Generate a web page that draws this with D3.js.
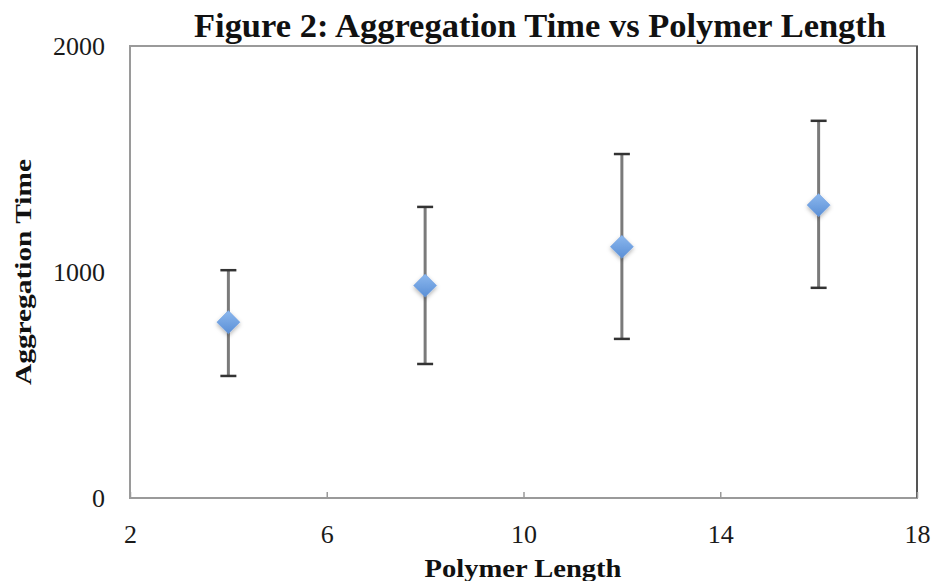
<!DOCTYPE html>
<html>
<head>
<meta charset="utf-8">
<script src="https://cdn.jsdelivr.net/npm/d3@7"></script>
<style>
  body { margin: 0; background: #fff; }
  svg { display: block; }
</style>
</head>
<body>
<svg id="chart" width="933" height="581"></svg>
<script>
// data
const polymerLength = [4, 8, 12, 16]
const aggTime = [778, 940, 1112, 1296]
const errLow = [540, 593, 704, 930]
const errHigh = [1008, 1288, 1522, 1669]
const xTicks = [2, 6, 10, 14, 18]
const yTicks = [0, 1000, 2000]

const margin = { top: 46, right: 16, bottom: 83, left: 130 }
const width = 933 - margin.left - margin.right
const height = 581 - margin.top - margin.bottom
const serif = "'Liberation Serif', serif"

const svg = d3.select('#chart')
const defs = svg.append('defs')
const grad = defs.append('linearGradient')
  .attr('id', 'dia').attr('x1', 0).attr('y1', 0).attr('x2', 0).attr('y2', 1)
grad.append('stop').attr('offset', '0%').attr('stop-color', '#8cb8ee')
grad.append('stop').attr('offset', '100%').attr('stop-color', '#5a8fd6')
const shadow = defs.append('filter').attr('id', 'shadow')
  .attr('x', '-50%').attr('y', '-50%').attr('width', '200%').attr('height', '200%')
shadow.append('feDropShadow').attr('dx', 0).attr('dy', 2).attr('stdDeviation', 2)
  .attr('flood-color', '#000').attr('flood-opacity', 0.3)

const g = svg.append('g').attr('transform', `translate(${margin.left},${margin.top})`)

const x = d3.scaleLinear().domain([2, 18]).range([0, width])
const y = d3.scaleLinear().domain([0, 2000]).range([height, 0])

// frame
g.append('rect').attr('x', 0).attr('y', 0).attr('width', width).attr('height', height)
  .attr('fill', 'none').attr('stroke', '#9a9a9a').attr('stroke-width', 2)
g.append('line').attr('x1', width).attr('x2', width).attr('y1', 0).attr('y2', height)
  .attr('stroke', '#555').attr('stroke-width', 2)

// axes
const xAxis = d3.axisBottom(x).tickValues(xTicks).tickFormat(d3.format('d'))
  .tickSizeInner(-6).tickSizeOuter(0).tickPadding(27)
const yAxis = d3.axisLeft(y).tickValues(yTicks).tickFormat(d3.format('d'))
  .tickSizeInner(0).tickSizeOuter(0).tickPadding(25)
const gx = g.append('g').attr('transform', `translate(0,${height})`).call(xAxis)
const gy = g.append('g').call(yAxis)
gx.select('.domain').remove()
gy.select('.domain').remove()
gx.selectAll('line').attr('stroke', '#9a9a9a').attr('stroke-width', 1.5)
gx.selectAll('text').style('font-size', '26px').style('font-family', serif).attr('fill', '#1a1a1a')
gy.selectAll('text').style('font-size', '26px').style('font-family', serif).attr('fill', '#1a1a1a')

// error bars
const pts = polymerLength.map((v, i) => ({ x: v, y: aggTime[i], lo: errLow[i], hi: errHigh[i] }))
const eb = g.append('g').selectAll('g').data(pts).join('g')
eb.append('line')
  .attr('x1', d => x(d.x)).attr('x2', d => x(d.x))
  .attr('y1', d => y(d.hi)).attr('y2', d => y(d.lo))
  .attr('stroke', '#7a7a7a').attr('stroke-width', 3)
eb.selectAll('.cap').data(d => [[d.x, d.hi], [d.x, d.lo]]).join('line')
  .attr('class', 'cap')
  .attr('x1', d => x(d[0]) - 8).attr('x2', d => x(d[0]) + 8)
  .attr('y1', d => y(d[1])).attr('y2', d => y(d[1]))
  .attr('stroke', '#333').attr('stroke-width', 2.5)

// diamonds
g.append('g').selectAll('path').data(pts).join('path')
  .attr('d', d3.symbol().type(d3.symbolDiamond2).size(340))
  .attr('transform', d => `translate(${x(d.x)},${y(d.y)})`)
  .attr('fill', 'url(#dia)')
  .attr('stroke', '#6d9de0').attr('stroke-width', 0.5)
  .attr('filter', 'url(#shadow)')

// title and labels
svg.append('text')
  .attr('x', 540).attr('y', 37)
  .attr('text-anchor', 'middle')
  .style('font-family', serif).attr('font-weight', 'bold').style('font-size', '34px')
  .attr('textLength', 692).attr('lengthAdjust', 'spacingAndGlyphs')
  .attr('fill', '#111')
  .text('Figure 2: Aggregation Time vs Polymer Length')

svg.append('text')
  .attr('x', 523).attr('y', 577)
  .attr('text-anchor', 'middle')
  .style('font-family', serif).attr('font-weight', 'bold').style('font-size', '25px')
  .attr('textLength', 197).attr('lengthAdjust', 'spacingAndGlyphs')
  .attr('fill', '#111')
  .text('Polymer Length')

svg.append('text')
  .attr('transform', 'translate(31,272) rotate(-90)')
  .attr('text-anchor', 'middle')
  .style('font-family', serif).attr('font-weight', 'bold').style('font-size', '24px')
  .attr('textLength', 226).attr('lengthAdjust', 'spacingAndGlyphs')
  .attr('fill', '#111')
  .text('Aggregation Time')
</script>
</body>
</html>
